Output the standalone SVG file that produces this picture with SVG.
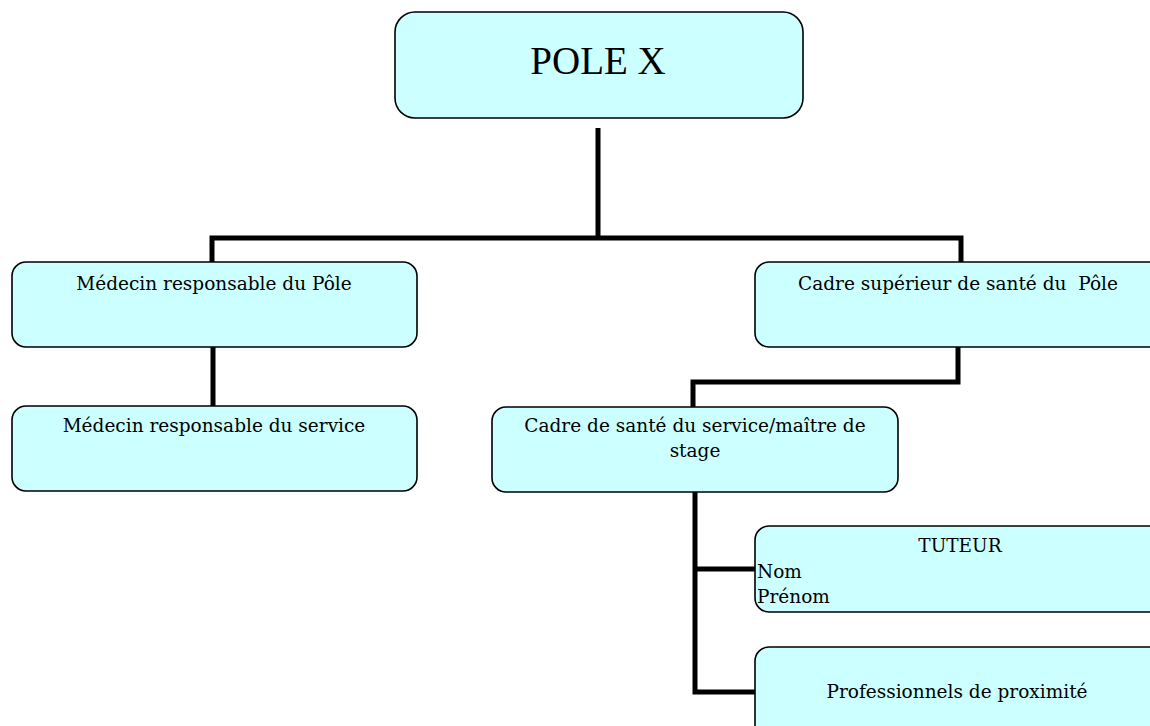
<svg xmlns="http://www.w3.org/2000/svg" width="1150" height="726" viewBox="0 0 1150 726">
<style>
.box{fill:#CCFFFF;stroke:#000;stroke-width:1.6}
.t{font-family:"DejaVu Serif","Liberation Serif",serif;font-size:18.5px;fill:#000}
.c{text-anchor:middle}
.conn{fill:none;stroke:#000;stroke-width:5;stroke-linejoin:miter}
</style>
<rect width="1150" height="726" fill="#fff"/>
<g id="connectors">
<path class="conn" d="M598,128 V238 M212,262 V238 H961 V262"/>
<path class="conn" d="M213,347 V406"/>
<path class="conn" d="M958,347 V382 H693 V407"/>
<path class="conn" d="M695,492 V692 H755 M695,569 H755"/>
</g>
<g id="pole">
<rect class="box" x="395" y="12" width="408" height="106" rx="20"/>
<text class="c" x="598" y="74" style="font-family:'Liberation Serif',serif;font-size:39px">POLE X</text>
</g>
<g id="medecin-pole">
<rect class="box" x="12" y="262" width="405" height="85" rx="14"/>
<text class="t c" x="214" y="290">Médecin responsable du Pôle</text>
</g>
<g id="cadre-sup">
<rect class="box" x="755" y="262" width="420" height="85" rx="14"/>
<text class="t c" x="958" y="290" xml:space="preserve">Cadre supérieur de santé du  Pôle</text>
</g>
<g id="medecin-service">
<rect class="box" x="12" y="406" width="405" height="85" rx="14"/>
<text class="t c" x="214" y="432">Médecin responsable du service</text>
</g>
<g id="cadre-service">
<rect class="box" x="492" y="407" width="406" height="85" rx="14"/>
<text class="t c" x="695" y="432">Cadre de santé du service/maître de</text>
<text class="t c" x="695" y="457">stage</text>
</g>
<g id="tuteur">
<rect class="box" x="755" y="526" width="420" height="86" rx="14"/>
<text class="t c" x="960" y="552">TUTEUR</text>
<text class="t" x="757" y="578">Nom</text>
<text class="t" x="757" y="603">Prénom</text>
</g>
<g id="professionnels">
<rect class="box" x="755" y="647" width="420" height="100" rx="14"/>
<text class="t c" x="957" y="698">Professionnels de proximité</text>
</g>
</svg>
